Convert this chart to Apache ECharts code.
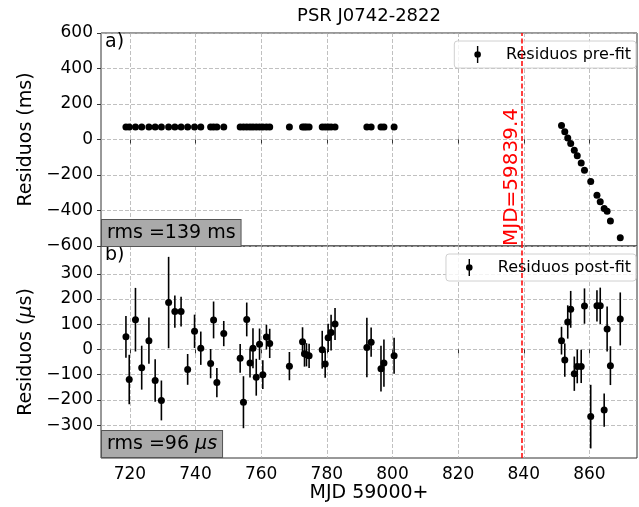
<!DOCTYPE html>
<html>
<head>
<meta charset="utf-8">
<script src="https://cdn.jsdelivr.net/npm/echarts@6/dist/echarts.min.js"></script>
<style>html,body{margin:0;padding:0;background:#fff;}#c{width:639px;height:507px;}</style>
</head>
<body>
<div id="c"></div>
<script>
// MJD - 59000
const mjd = [718.8, 719.8, 721.7, 723.6, 725.8, 727.7, 729.6, 731.8, 733.7, 735.6,
  737.6, 739.7, 741.6, 744.6, 745.5, 746.5, 748.6, 753.6, 754.6, 755.6,
  756.6, 757.5, 758.5, 759.5, 760.5, 761.6, 762.6, 768.6, 772.6, 773.2,
  773.8, 774.6, 778.6, 779.5, 780.4, 781.3, 782.5, 792.2, 793.5, 796.5,
  797.4, 800.5,
  851.5, 852.5, 853.4, 854.3, 855.4, 856.3, 857.5, 858.5, 860.4, 862.3,
  863.3, 864.5, 865.4, 866.4, 869.4];
// pre-fit residuals (ms)
const preFit = [71, 71, 71, 71, 71, 71, 71, 71, 71, 71,
  71, 71, 71, 71, 71, 71, 71, 71, 71, 71,
  71, 71, 71, 71, 71, 71, 71, 71, 71, 71,
  71, 71, 71, 71, 71, 71, 71, 71, 71, 71,
  71, 71,
  79, 43, 9, -23, -60, -92, -132, -173, -237, -314,
  -351, -389, -404, -459, -554];
// post-fit residuals (us)
const postFit = [50, -119, 118, -72, 35, -123, -202, 186, 150, 150,
  -79, 72, 5, -56, 117, -131, 63, -35, -209, 119,
  -54, 5, -110, 21, -100, 49, 24, -66, 31, -17,
  -21, -25, -1, -58, 46, 67, 101, 8, 29, -76,
  -54, -25,
  35, -42, 109, 159, -96, -67, -67, 172, -266, 173,
  173, -240, 81, -64, 121];
const postErr = [83, 98, 126, 87, 92, 84, 79, 181, 64, 59,
  61, 66, 66, 58, 73, 58, 50, 57, 103, 67,
  57, 79, 73, 62, 57, 49, 58, 56, 57, 51,
  46, 48, 75, 54, 56, 71, 63, 118, 58, 91,
  94, 71,
  55, 66, 66, 73, 68, 67, 66, 70, 126, 62,
  72, 66, 89, 77, 105];
const xTicks = [720, 740, 760, 780, 800, 820, 840, 860];
const yTicksTop = [-600, -400, -200, 0, 200, 400, 600];
const yTicksBottom = [-300, -200, -100, 0, 100, 200, 300];
const mjdCut = 839.4;
const mjdCutLabel = 'MJD=59839.4';
const rmsPre = 'rms =139 ms';
const rmsPostValue = '96';

const FONT = 'DejaVu Sans';
const fmtMinus = v => String(v).replace('-', '\u2212');
const gridLine = {show: true, lineStyle: {color: '#b0b0b0', type: [4, 2], width: 0.8}};
const tick = {show: true, inside: false, length: 4, lineStyle: {color: '#333', width: 1}};
const legendIcon = 'path://M2.75,0L4.25,0L4.25,18L2.75,18Z M7,9A3.5,3.5,0,1,1,0,9A3.5,3.5,0,1,1,7,9Z';

const preData = mjd.map((x, i) => [x, preFit[i]]);
const postData = mjd.map((x, i) => [x, postFit[i], postErr[i]]);

const chart = echarts.init(document.getElementById('c'), null, {renderer: 'canvas'});
chart.setOption({
  animation: false,
  backgroundColor: '#fff',
  textStyle: {fontFamily: FONT},
  title: {
    text: 'PSR J0742-2822', left: 369, top: 7, textAlign: 'center', padding: 0,
    textStyle: {fontFamily: FONT, fontSize: 18, fontWeight: 'normal', color: '#000'}
  },
  grid: [
    {left: 101, top: 33, width: 536, height: 213, show: true, borderColor: '#333', borderWidth: 1, containLabel: false},
    {left: 101, top: 246, width: 536, height: 212, show: true, borderColor: '#333', borderWidth: 1, containLabel: false}
  ],
  legend: [
    {
      data: ['Residuos pre-fit'], right: 3, top: 41, orient: 'horizontal',
      icon: legendIcon, itemWidth: 7, itemHeight: 17,
      padding: [5, 5, 5, 20], backgroundColor: 'rgba(255,255,255,0.8)',
      borderColor: '#d0d0d0', borderWidth: 1, borderRadius: 3,
      selectedMode: false,
      textStyle: {fontFamily: FONT, fontSize: 16, color: '#000', padding: [0, 0, 0, 20]}
    },
    {
      data: ['Residuos post-fit'], right: 3, top: 254, orient: 'horizontal',
      icon: legendIcon, itemWidth: 7, itemHeight: 17,
      padding: [5, 5, 5, 20], backgroundColor: 'rgba(255,255,255,0.8)',
      borderColor: '#d0d0d0', borderWidth: 1, borderRadius: 3,
      selectedMode: false,
      textStyle: {fontFamily: FONT, fontSize: 16, color: '#000', padding: [0, 0, 0, 20]}
    }
  ],
  xAxis: [
    {
      type: 'value', gridIndex: 0, min: 711.2, max: 874.5,
      axisLine: {show: false}, axisTick: Object.assign({customValues: xTicks}, tick),
      axisLabel: {show: false, customValues: xTicks},
      splitLine: gridLine
    },
    {
      type: 'value', gridIndex: 1, min: 711.2, max: 874.5,
      name: 'MJD 59000+', nameLocation: 'middle', nameGap: 24,
      nameTextStyle: {fontFamily: FONT, fontSize: 19, color: '#000'},
      axisLine: {show: false}, axisTick: Object.assign({customValues: xTicks}, tick),
      axisLabel: {show: true, customValues: xTicks, fontFamily: FONT, fontSize: 17, color: '#000', margin: 8},
      splitLine: gridLine
    }
  ],
  yAxis: [
    {
      type: 'value', gridIndex: 0, min: -600, max: 600, interval: 200,
      name: 'Residuos (ms)', nameLocation: 'middle', nameGap: 62, nameRotate: 90,
      nameTextStyle: {fontFamily: FONT, fontSize: 19, color: '#000'},
      axisLine: {show: false}, axisTick: tick,
      axisLabel: {fontFamily: FONT, fontSize: 17, color: '#000', margin: 8, formatter: fmtMinus, showMinLabel: true, showMaxLabel: true},
      splitLine: gridLine
    },
    {
      type: 'value', gridIndex: 1, min: -430, max: 410,
      name: '{n|Residuos (}{i|\u03bc}{n|s)}', nameLocation: 'middle', nameGap: 62, nameRotate: 90,
      nameTextStyle: {fontFamily: FONT, fontSize: 19, color: '#000',
        rich: {n: {fontFamily: FONT, fontSize: 19, color: '#000'}, i: {fontFamily: FONT, fontSize: 19, fontStyle: 'italic', color: '#000'}}},
      axisLine: {show: false}, axisTick: Object.assign({customValues: yTicksBottom}, tick),
      axisLabel: {customValues: yTicksBottom, fontFamily: FONT, fontSize: 17, color: '#000', margin: 8, formatter: fmtMinus},
      splitLine: gridLine
    }
  ],
  series: [
    {
      name: 'Residuos pre-fit', type: 'scatter', xAxisIndex: 0, yAxisIndex: 0,
      data: preData, symbolSize: 7, itemStyle: {color: '#000', opacity: 1}, z: 3,
      markLine: {
        silent: true, symbol: ['none', 'none'], animation: false,
        lineStyle: {color: '#ff0000', type: [5, 2.5], width: 1.5},
        label: {show: true, formatter: mjdCutLabel, position: 'insideStartTop', distance: 0,
          color: '#ff0000', fontFamily: FONT, fontSize: 20},
        data: [{xAxis: mjdCut}]
      }
    },
    {
      name: 'errbar', type: 'custom', xAxisIndex: 1, yAxisIndex: 1, z: 2,
      data: postData, clip: true,
      renderItem: function (params, api) {
        const x = api.value(0), y = api.value(1), e = api.value(2);
        const p1 = api.coord([x, y - e]);
        const p2 = api.coord([x, y + e]);
        return {type: 'line', shape: {x1: p1[0], y1: p1[1], x2: p2[0], y2: p2[1]},
          style: {stroke: '#000', lineWidth: 1.6}};
      }
    },
    {
      name: 'Residuos post-fit', type: 'scatter', xAxisIndex: 1, yAxisIndex: 1,
      data: postData.map(d => [d[0], d[1]]), symbolSize: 7, itemStyle: {color: '#000', opacity: 1}, z: 3,
      markLine: {
        silent: true, symbol: ['none', 'none'], animation: false,
        lineStyle: {color: '#ff0000', type: [5, 2.5], width: 1.5},
        label: {show: false},
        data: [{xAxis: mjdCut}]
      }
    }
  ],
  graphic: [
    {type: 'text', left: 105, top: 33, z: 10, style: {text: 'a)', font: '19px "DejaVu Sans"', fill: '#000'}},
    {type: 'text', left: 105, top: 246, z: 10, style: {text: 'b)', font: '19px "DejaVu Sans"', fill: '#000'}},
    {type: 'text', left: 101, top: 219, z: 10, style: {
      text: rmsPre, font: '19px "DejaVu Sans"', fill: '#000',
      backgroundColor: '#aaaaaa', borderColor: '#555', borderWidth: 1, padding: [3, 5, 2, 5], lineHeight: 21}},
    {type: 'text', left: 101, top: 430, z: 10, style: {
      text: '{n|rms =' + rmsPostValue + ' }{i|\u03bcs}', fill: '#000',
      font: '19px "DejaVu Sans"',
      rich: {n: {fontFamily: FONT, fontSize: 19, fill: '#000', lineHeight: 21}, i: {fontFamily: FONT, fontSize: 19, fontStyle: 'italic', fill: '#000', lineHeight: 21}},
      backgroundColor: '#aaaaaa', borderColor: '#555', borderWidth: 1, padding: [3, 5, 2, 5]}}
  ]
});
</script>
</body>
</html>
